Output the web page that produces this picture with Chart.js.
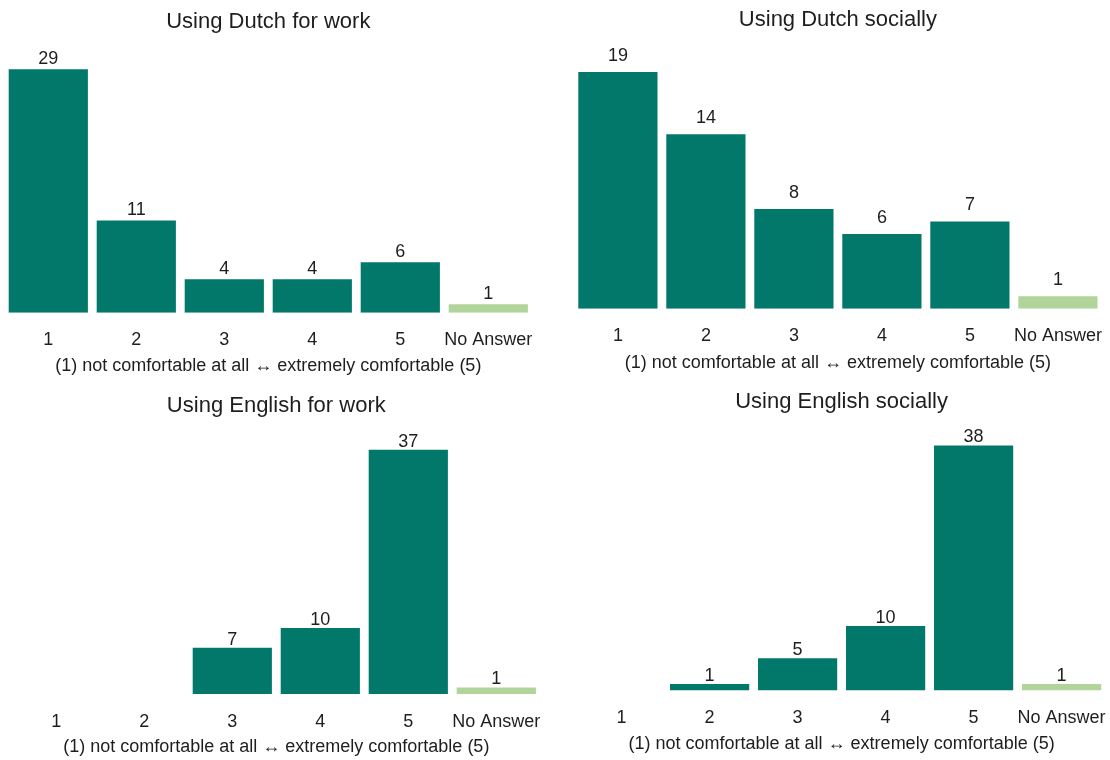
<!DOCTYPE html>
<html>
<head>
<meta charset="utf-8">
<title>Comfort using Dutch and English</title>
<script src="https://cdn.jsdelivr.net/npm/chart.js@4.4.1/dist/chart.umd.min.js"></script>
<style>
    body { margin: 0; background: #ffffff; }
    #wrap { position: relative; width: 1110px; height: 760px; overflow: hidden; }
    canvas { position: absolute; }
</style>
</head>
<body>
<div id="wrap">
    <canvas id="DutchWork" width="540" height="381" style="left:0px; top:0px;"></canvas>
    <canvas id="DutchSocial" width="550" height="378" style="left:560px; top:0px;"></canvas>
    <canvas id="EnglishWork" width="550" height="375" style="left:0px; top:385px;"></canvas>
    <canvas id="EnglishSocial" width="550" height="374" style="left:560px; top:385px;"></canvas>
</div>

<script>
// answer counts per rating, last one is "No Answer"
const ratingLabels = ["1", "2", "3", "4", "5", "No Answer"];
const dutchWork = [29, 11, 4, 4, 6, 1];
const dutchSocial = [19, 14, 8, 6, 7, 1];
const englishWork = [0, 0, 7, 10, 37, 1];
const englishSocial = [0, 1, 5, 10, 38, 1];

const axisCaption = "(1) not comfortable at all \u2194 extremely comfortable (5)";

const fontFamily = "'Liberation Sans', Arial, Helvetica, sans-serif";
const textColor = "#1e1e1e";
const ratedColor = "#02786a";
const noAnswerColor = "#b1d49b";

// writes the count above each bar (empty ratings get no number)
const barValues = {
    id: 'barValues',
    afterDatasetsDraw(chart, args, opts) {
        const ctx = chart.ctx;
        ctx.save();
        ctx.font = "18px " + fontFamily;
        ctx.fillStyle = textColor;
        ctx.textAlign = "center";
        ctx.textBaseline = "alphabetic";
        chart.data.datasets.forEach(function (ds, i) {
            chart.getDatasetMeta(i).data.forEach(function (bar, j) {
                if (!ds.data[j]) return;
                ctx.fillText(ds.data[j], bar.x, bar.y - opts.gap);
            });
        });
        ctx.restore();
    }
};

function CreateBarChart(canvasId, title, counts, box) {
    let ctx = document.getElementById(canvasId).getContext('2d');

    let colors = counts.map(function (v, i) {
        return i === counts.length - 1 ? noAnswerColor : ratedColor;
    });

    return new Chart(ctx, {
        type: 'bar',
        data: {
            labels: ratingLabels,
            datasets: [{
                data: counts,
                backgroundColor: colors,
                borderWidth: 0,
                categoryPercentage: 1.0,
                barPercentage: 0.9
            }]
        },
        plugins: [barValues],
        options: {
            responsive: false,
            animation: false,
            layout: {
                padding: { left: box.padL, right: box.padR, top: 0, bottom: 0 }
            },
            plugins: {
                legend: { display: false },
                tooltip: { enabled: false },
                title: {
                    display: true,
                    text: title,
                    color: textColor,
                    font: { family: fontFamily, size: 22, weight: 'normal', lineHeight: 1.2 },
                    padding: { top: box.titleTop, bottom: box.titleBottom }
                },
                barValues: { gap: box.gap }
            },
            scales: {
                y: {
                    display: false,
                    min: 0,
                    max: box.yMax
                },
                x: {
                    grid: { display: false, drawTicks: false },
                    border: { display: false },
                    ticks: {
                        color: textColor,
                        font: { family: fontFamily, size: 18, lineHeight: 1.2 },
                        padding: box.tickPad,
                        autoSkip: false,
                        maxRotation: 0,
                        minRotation: 0
                    },
                    title: {
                        display: true,
                        text: axisCaption,
                        color: textColor,
                        font: { family: fontFamily, size: 18, lineHeight: 1.2 },
                        padding: { top: 0, bottom: box.captionBottom }
                    },
                    afterFit: function (scale) {
                        // fixed axis band so ticks and caption sit where we want them
                        scale.height = box.axisH;
                        scale.paddingLeft = 0;
                        scale.paddingRight = 0;
                    }
                }
            }
        }
    });
}

CreateBarChart('DutchWork', "Using Dutch for work", dutchWork, {
    padL: 4.3, padR: 7.7, titleTop: 8.8, titleBottom: 9.0,
    yMax: 32, tickPad: 16.5, axisH: 68.3, captionBottom: 4, gap: 5.5
});

CreateBarChart('DutchSocial', "Using Dutch socially", dutchSocial, {
    padL: 13.9, padR: 8.1, titleTop: 6.8, titleBottom: 26.3,
    yMax: 20, tickPad: 16.5, axisH: 69.3, captionBottom: 4, gap: 11
});

CreateBarChart('EnglishWork', "Using English for work", englishWork, {
    padL: 12.3, padR: 9.7, titleTop: 7.8, titleBottom: 10.8,
    yMax: 40, tickPad: 16.9, axisH: 66, captionBottom: 2.2, gap: 3
});

CreateBarChart('EnglishSocial', "Using English socially", englishSocial, {
    padL: 17.6, padR: 4.4, titleTop: 3.8, titleBottom: 17.3,
    yMax: 40, tickPad: 16.7, axisH: 68.5, captionBottom: 4, gap: 3
});
</script>
</body>
</html>
